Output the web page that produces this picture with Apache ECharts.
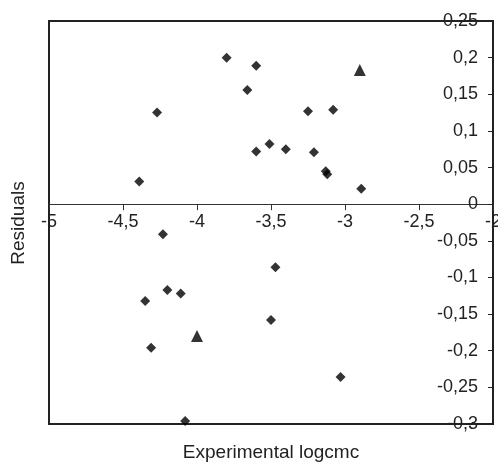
<!DOCTYPE html>
<html>
<head>
<meta charset="utf-8">
<script src="https://cdn.jsdelivr.net/npm/echarts@6/dist/echarts.min.js"></script>
<style>
  html, body { margin: 0; padding: 0; background: #fff; }
  #chart { width: 498px; height: 463px; }
</style>
</head>
<body>
<div id="chart"></div>
<script>
// experimental logcmc vs residuals, diamonds
const diamondX = [
  -3.80, -3.66, -4.27, -4.39, -4.23, -3.60, -3.25, -3.08, -3.60, -3.51,
  -3.40, -3.21, -3.13, -3.12, -2.89, -4.20, -4.11, -4.35, -4.31, -4.08,
  -3.47, -3.50, -3.03
]
const diamondY = [
  0.200, 0.156, 0.125, 0.031, -0.041, 0.189, 0.127, 0.129, 0.072, 0.082,
  0.075, 0.071, 0.045, 0.041, 0.021, -0.117, -0.122, -0.132, -0.196, -0.296,
  -0.086, -0.158, -0.236
]
// triangles
const triangleX = [-2.90, -4.00]
const triangleY = [0.183, -0.180]

const xTitle = 'Experimental logcmc'
const yTitle = 'Residuals'

const yMin = -0.3
const yMax = 0.25

const gridH = 403
const font = 'Liberation Sans, Arial, sans-serif'
const comma = (v) => String(+v.toFixed(2)).replace('.', ',')

const chart = echarts.init(document.getElementById('chart'), null, { renderer: 'canvas' })

chart.setOption({
  animation: false,
  backgroundColor: '#fff',
  grid: {
    left: 49,
    top: 21,
    width: 444,
    height: gridH,
    outerBoundsMode: 'none',
    containLabel: false,
    show: true,
    borderColor: '#222',
    borderWidth: 2,
  },
  xAxis: {
    type: 'value',
    min: -5,
    max: -2,
    interval: 0.5,
    position: 'bottom',
    // sit the axis on y = 0
    offset: -gridH * (0 - yMin) / (yMax - yMin),
    axisLine: { onZero: false, lineStyle: { color: '#333', width: 1 } },
    axisTick: { show: true, length: 6, lineStyle: { color: '#333' } },
    axisLabel: {
      color: '#222',
      fontFamily: font,
      fontSize: 18,
      margin: 9,
      hideOverlap: false,
      formatter: comma,
    },
    splitLine: { show: false },
  },
  yAxis: {
    type: 'value',
    position: 'right',
    min: yMin,
    max: yMax,
    interval: 0.05,
    axisLine: { show: true, onZero: false, lineStyle: { color: '#222', width: 2 } },
    axisTick: { show: true, inside: true, length: 5, lineStyle: { color: '#222' } },
    axisLabel: {
      inside: true,
      color: '#222',
      fontFamily: font,
      fontSize: 18,
      margin: 15,
      formatter: comma,
    },
    splitLine: { show: false },
  },
  graphic: [
    {
      type: 'text',
      x: 271,
      y: 453,
      style: {
        text: xTitle,
        font: '19px ' + font,
        fill: '#222',
        align: 'center',
        verticalAlign: 'middle',
      },
    },
    {
      type: 'text',
      x: 19,
      y: 223,
      rotation: Math.PI / 2,
      style: {
        text: yTitle,
        font: '19px ' + font,
        fill: '#222',
        align: 'center',
        verticalAlign: 'middle',
      },
    },
  ],
  series: [
    {
      type: 'scatter',
      symbol: 'diamond',
      symbolSize: 10,
      itemStyle: { color: '#000' },
      data: diamondX.map((x, i) => [x, diamondY[i]]),
    },
    {
      type: 'scatter',
      symbol: 'triangle',
      symbolSize: 12,
      itemStyle: { color: '#000' },
      data: triangleX.map((x, i) => [x, triangleY[i]]),
    },
  ],
})
</script>
</body>
</html>
